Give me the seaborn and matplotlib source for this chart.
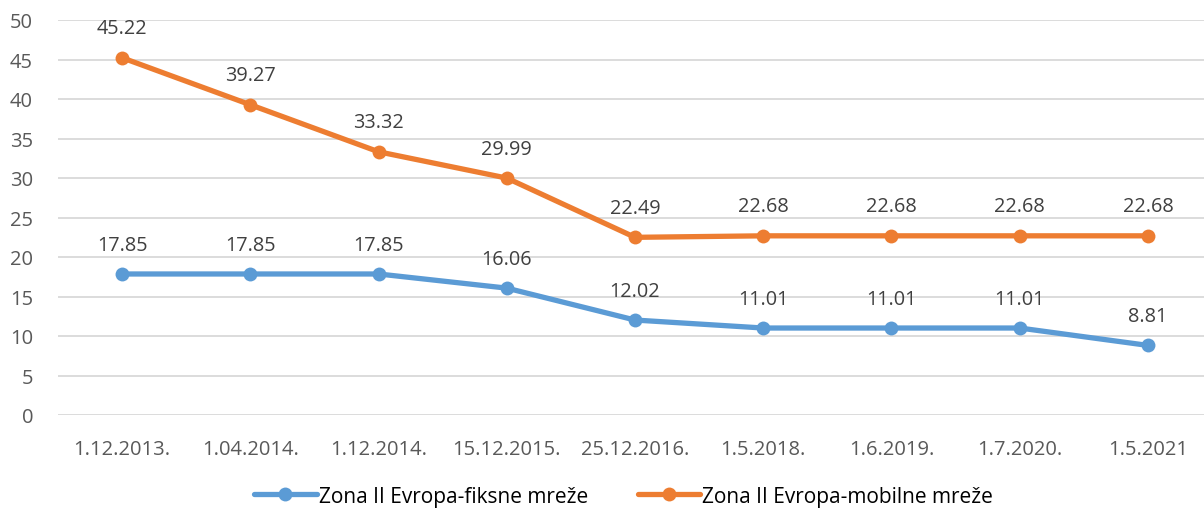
import matplotlib
matplotlib.use("Agg")
import matplotlib.pyplot as plt
import seaborn as sns
import pandas as pd
from matplotlib.lines import Line2D

dates = ["1.12.2013.", "1.04.2014.", "1.12.2014.", "15.12.2015.", "25.12.2016.",
         "1.5.2018.", "1.6.2019.", "1.7.2020.", "1.5.2021"]
fiksne = [17.85, 17.85, 17.85, 16.06, 12.02, 11.01, 11.01, 11.01, 8.81]
mobilne = [45.22, 39.27, 33.32, 29.99, 22.49, 22.68, 22.68, 22.68, 22.68]
series_names = ["Zona II Evropa-fiksne mreže", "Zona II Evropa-mobilne mreže"]
colors = ["#5B9BD5", "#ED7D31"]

sns.set_theme(style="white")
plt.rcParams['font.family'] = ['Open Sans', 'DejaVu Sans']

df = pd.DataFrame({
    "date": dates * 2,
    "value": fiksne + mobilne,
    "series": [series_names[0]] * len(dates) + [series_names[1]] * len(dates),
})

fig = plt.figure(figsize=(12.04, 5.10), dpi=100)
ax = fig.add_axes([58 / 1204, 1 - 416 / 510, (1212 - 58) / 1204, 395 / 510])

sns.lineplot(data=df, x="date", y="value", hue="series", palette=colors,
             marker="o", markersize=10, markeredgewidth=0, linewidth=3.8,
             sort=False, ax=ax, legend=False)

for vals in (fiksne, mobilne):
    for i, v in enumerate(vals):
        ax.annotate(f"{v:.2f}", (i, v), xytext=(0, 14), textcoords="offset points",
                    ha="center", va="bottom", fontsize=14.3, color="#404040")

ax.set_xlim(-0.5, len(dates) - 0.5)
ax.set_ylim(0, 50)
ax.set_yticks(range(0, 51, 5))
ax.set_xlabel("")
ax.set_ylabel("")
ax.grid(axis="y", color="#D9D9D9", linewidth=1.3)
ax.grid(axis="x", visible=False)
ax.set_axisbelow(True)
for s in ax.spines.values():
    s.set_visible(False)
ax.tick_params(axis="y", length=0, pad=18, labelsize=14.5, labelcolor="#595959")
ax.tick_params(axis="x", length=0, pad=17, labelsize=14.5, labelcolor="#595959")

handles = [Line2D([], [], color=c, linewidth=3.8, marker="o", markersize=10,
                  markeredgewidth=0) for c in colors]
fig.legend(handles, series_names, loc="center", bbox_to_anchor=(0.518, 0.025),
           ncol=2, frameon=False, fontsize=15, handlelength=3.0,
           handletextpad=0.1, columnspacing=2.4, labelcolor="black")

fig.savefig("out.png", dpi=100)
